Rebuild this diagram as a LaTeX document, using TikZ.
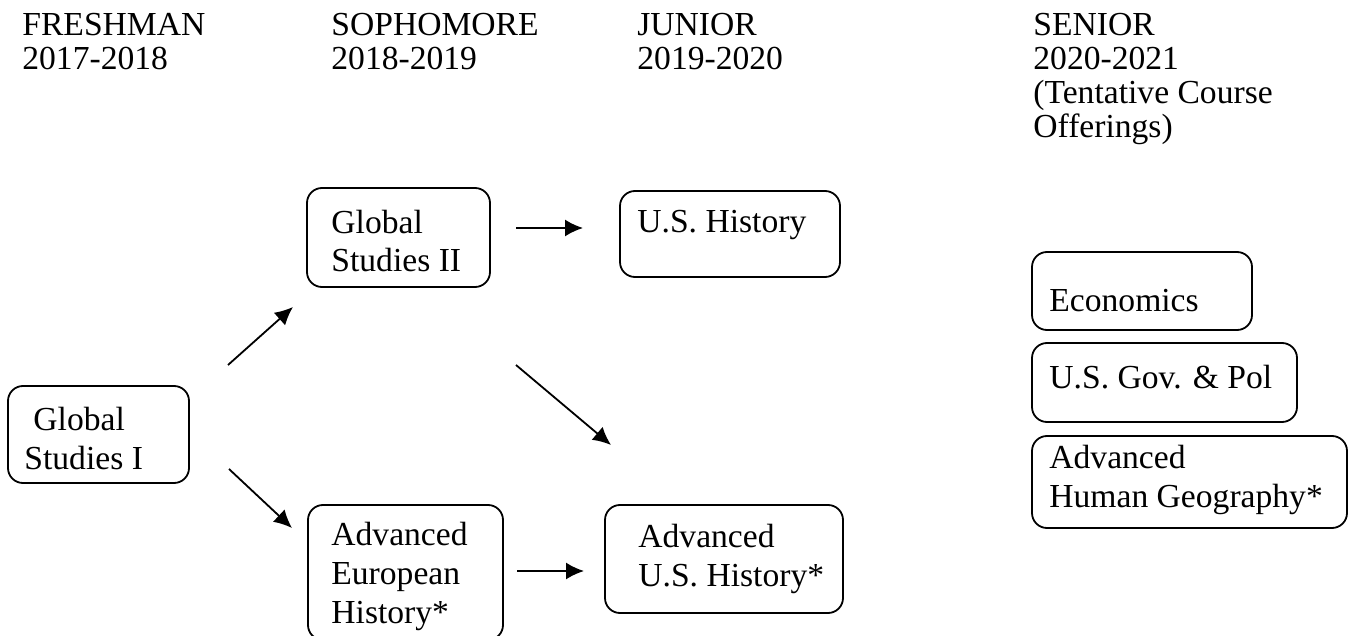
\documentclass[tikz,border=0pt]{standalone}
\usepackage{fontspec}
\setmainfont{Liberation Serif}
\usetikzlibrary{arrows.meta,fit}
\begin{document}
\begin{tikzpicture}[x=0.5pt,y=-0.5pt,
  box/.style={draw, line width=0.9pt, rounded corners=7.5pt, inner sep=0pt},
  txt/.style={inner sep=0pt, anchor=base west, align=left, font=\fontsize{16.8}{19.3}\selectfont},
  head/.style={txt, font=\fontsize{16.8}{17}\selectfont},
  arr/.style={line width=0.9pt, -{Latex[length=9pt,width=8.5pt]}}]
\useasboundingbox (0,0) rectangle (1350,636);
% headers (anchored at the baseline of their last line)
\node[head] (h1) at (22,70) {FRESHMAN\\2017-2018};
\node[head] (h2) at (331,70) {SOPHOMORE\\2018-2019};
\node[head] (h3) at (637,70) {JUNIOR\\2019-2020};
\node[head] (h4) at (1033,138) {SENIOR\\2020-2021\\(Tentative Course\\Offerings)};
% boxes
\node[box, fit={(8,386)(189,483)}] (gs1) {};
\node[txt] (gs1t) at (24,469) {\hspace{4.5pt}Global\\Studies I};
\node[box, fit={(307,188)(490,287)}] (gs2) {};
\node[txt] (gs2t) at (331,272) {Global\\Studies II};
\node[box, fit={(620,191)(840,277)}] (ush) {};
\node[txt] (usht) at (637,233) {U.S. History};
\node[box, fit={(308,505)(503,640)}] (aeh) {};
\node[txt] (aeht) at (331,623) {Advanced\\European\\History*};
\node[box, fit={(605,505)(843,613)}] (aus) {};
\node[txt] (aust) at (638,586) {Advanced\\U.S. History*};
\node[box, fit={(1032,252)(1252,330)}] (eco) {};
\node[txt] (ecot) at (1049,312) {Economics};
\node[box, fit={(1032,343)(1297,422)}] (gov) {};
\node[txt] (govt) at (1049,388) {U.S. Gov. \& Pol};
\node[box, fit={(1032,436)(1347,528)}] (ahg) {};
\node[txt] (ahgt) at (1049,507) {Advanced\\Human Geography*};
% arrow end points
\coordinate (a1s) at (228,365); \coordinate (a1e) at (293,307);
\coordinate (a2s) at (229,469); \coordinate (a2e) at (292,528);
\coordinate (a3s) at (516,228); \coordinate (a3e) at (583,228);
\coordinate (a4s) at (516,365); \coordinate (a4e) at (611,445);
\coordinate (a5s) at (517,571); \coordinate (a5e) at (584,571);
\draw[arr] (a1s) -- (a1e);
\draw[arr] (a2s) -- (a2e);
\draw[arr] (a3s) -- (a3e);
\draw[arr] (a4s) -- (a4e);
\draw[arr] (a5s) -- (a5e);
\end{tikzpicture}
\end{document}
